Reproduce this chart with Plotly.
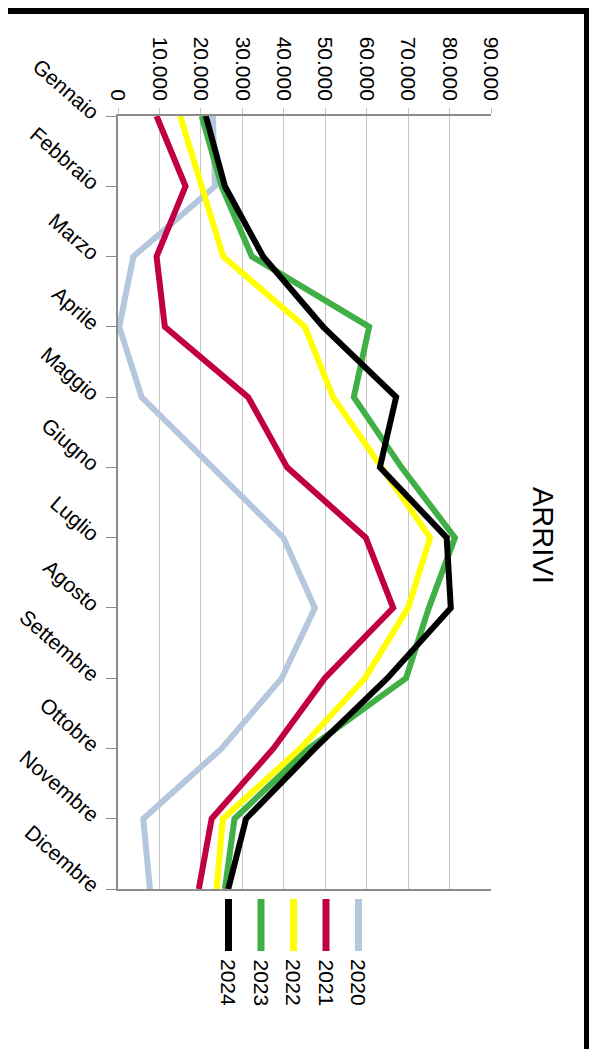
import plotly.graph_objects as go

months = ["Gennaio", "Febbraio", "Marzo", "Aprile", "Maggio", "Giugno",
          "Luglio", "Agosto", "Settembre", "Ottobre", "Novembre", "Dicembre"]
years = ["2020", "2021", "2022", "2023", "2024"]
v2020 = [22900, 23400, 3700, 300, 5700, 22900, 39900, 47500, 39500, 25000, 6100, 7700]
v2021 = [9300, 16300, 9300, 11300, 31400, 40800, 59800, 66400, 49900, 37500, 22600, 19500]
v2022 = [15000, 20300, 25400, 45100, 51900, 63600, 75300, 70000, 59600, 44000, 25300, 23800]
v2023 = [20200, 25000, 32300, 60600, 56900, 68400, 81300, 75000, 69500, 46000, 28100, 25800]
v2024 = [21200, 25800, 35000, 49500, 67100, 63200, 79300, 80300, 65000, 47500, 30900, 26600]
series = [v2020, v2021, v2022, v2023, v2024]
colors = ["#B4C7DD", "#C00042", "#FFFF00", "#3FAF46", "#000000"]
value_ticks = [0, 10000, 20000, 30000, 40000, 50000, 60000, 70000, 80000, 90000]

OFF = 8  # page body margin
W, H = 597 - OFF, 1049 - OFF
L, R, T, B = 118, 491, 116, 889  # plot area in page pixels


def px(x):
    return (x - L) / (R - L)


def py(y):
    return (B - y) / (B - T)


fig = go.Figure()
for name, vals, col in zip(years, series, colors):
    fig.add_trace(go.Scatter(x=vals, y=months, mode="lines", name=name,
                             line=dict(color=col, width=6), showlegend=False))

font = "Liberation Sans, Arial, sans-serif"
fig.update_layout(
    template="none",
    width=W, height=H,
    margin=dict(l=L - OFF, r=W - (R - OFF), t=T - OFF, b=H - (B - OFF), pad=0),
    paper_bgcolor="white", plot_bgcolor="white",
    separators=",.",
    font=dict(family=font, color="black", size=20),
    xaxis=dict(range=[0, 90000], side="top", tickvals=value_ticks, tickformat=",d",
               tickangle=90, showgrid=True, gridcolor="#C6C6C6", gridwidth=1,
               showline=True, linecolor="#8C8C8C", linewidth=1.5, mirror=True,
               ticks="outside", ticklen=6, tickcolor="#C6C6C6", zeroline=False,
               automargin=False, tickfont=dict(size=21, family=font)),
    yaxis=dict(type="category", categoryarray=months, range=[11, 0],
               showgrid=False, showline=True, linecolor="#8C8C8C", linewidth=1.5,
               ticks="outside", ticklen=10, tickcolor="#8C8C8C", tickangle=41,
               ticklabelstandoff=4,
               zeroline=False, automargin=False, tickfont=dict(size=21, family=font)),
)

shapes = []
annotations = []
# title
annotations.append(dict(text="ARRIVI", x=px(543), y=py(535), xref="paper", yref="paper",
                        showarrow=False, textangle=90, font=dict(size=29, family=font),
                        xanchor="center", yanchor="middle"))
# custom rotated legend
leg_x = [358.5, 326, 293.5, 261, 228.5]
for name, col, lx in zip(years, colors, leg_x):
    shapes.append(dict(type="line", xref="paper", yref="paper",
                       x0=px(lx), x1=px(lx), y0=py(899), y1=py(951),
                       line=dict(color=col, width=7)))
    annotations.append(dict(text=name, x=px(lx), y=py(957), xref="paper", yref="paper",
                            showarrow=False, textangle=90, font=dict(size=21, family=font),
                            xanchor="center", yanchor="top"))
# outer frame (chart border)
shapes.append(dict(type="line", xref="paper", yref="paper", x0=px(8), x1=px(590),
                   y0=py(11), y1=py(11), line=dict(color="black", width=6)))
shapes.append(dict(type="line", xref="paper", yref="paper", x0=px(587), x1=px(587),
                   y0=py(8), y1=py(1050), line=dict(color="black", width=6)))

fig.update_layout(shapes=shapes, annotations=annotations)
fig.write_html("out.html")
